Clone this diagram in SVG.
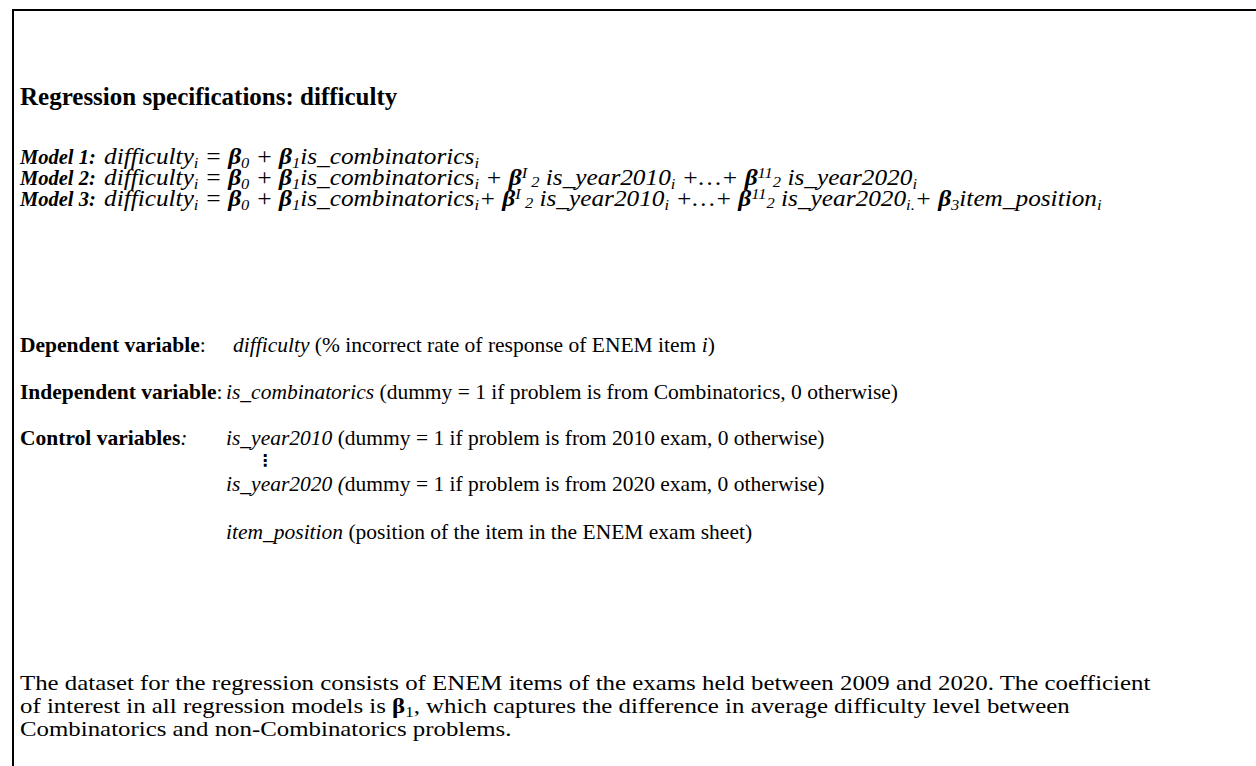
<svg xmlns="http://www.w3.org/2000/svg" width="1256" height="766" viewBox="0 0 1256 766">
<style>
text{font-family:"Liberation Serif","Times New Roman",serif;font-size:21.5px;fill:#000}
.t{font-size:25px;font-weight:bold}
.b{font-weight:bold}
.i{font-style:italic}
.bi{font-weight:bold;font-style:italic}
.lab{font-size:20.5px;font-weight:bold;font-style:italic}
.eq{font-size:23px;font-style:italic}
.s{font-size:15px}
.p{font-size:22px}
</style>
<rect width="1256" height="766" fill="#fff"/>
<g id="frame"><path d="M13 766V10H1256" fill="none" stroke="#000" stroke-width="2"/></g>
<g id="title"><text class="t" x="20" y="105">Regression specifications: difficulty</text></g>
<g id="models">
<text class="lab" x="20" y="164">Model 1:</text>
<text class="lab" x="20" y="185">Model 2:</text>
<text class="lab" x="20" y="206">Model 3:</text>
<g transform="translate(104,0) scale(1.1,1)">
<text class="eq" x="0" y="164">difficulty<tspan class="s" baseline-shift="-4">i</tspan> = <tspan class="b">β</tspan><tspan class="s" baseline-shift="-4">0</tspan> + <tspan class="b">β</tspan><tspan class="s" baseline-shift="-4">1</tspan>is_combinatorics<tspan class="s" baseline-shift="-4">i</tspan></text>
<text class="eq" x="0" y="185">difficulty<tspan class="s" baseline-shift="-4">i</tspan> = <tspan class="b">β</tspan><tspan class="s" baseline-shift="-4">0</tspan> + <tspan class="b">β</tspan><tspan class="s" baseline-shift="-4">1</tspan>is_combinatorics<tspan class="s" baseline-shift="-4">i</tspan> + <tspan class="b">β</tspan><tspan class="s" baseline-shift="7">I</tspan><tspan class="s" baseline-shift="-2"> 2</tspan> is_year2010<tspan class="s" baseline-shift="-4">i</tspan> +…+ <tspan class="b">β</tspan><tspan class="s" baseline-shift="7">11</tspan><tspan class="s" baseline-shift="-2">2</tspan> is_year2020<tspan class="s" baseline-shift="-4">i</tspan></text>
<text class="eq" x="0" y="206">difficulty<tspan class="s" baseline-shift="-4">i</tspan> = <tspan class="b">β</tspan><tspan class="s" baseline-shift="-4">0</tspan> + <tspan class="b">β</tspan><tspan class="s" baseline-shift="-4">1</tspan>is_combinatorics<tspan class="s" baseline-shift="-4">i</tspan>+ <tspan class="b">β</tspan><tspan class="s" baseline-shift="7">I</tspan><tspan class="s" baseline-shift="-2"> 2</tspan> is_year2010<tspan class="s" baseline-shift="-4">i</tspan> +…+ <tspan class="b">β</tspan><tspan class="s" baseline-shift="7">11</tspan><tspan class="s" baseline-shift="-2">2</tspan> is_year2020<tspan class="s" baseline-shift="-4">i.</tspan>+ <tspan class="b">β</tspan><tspan class="s" baseline-shift="-4">3</tspan>item_position<tspan class="s" baseline-shift="-4">i</tspan></text>
</g>
</g>
<g id="variables">
<text x="20" y="352"><tspan class="b">Dependent variable</tspan>:</text>
<text x="233" y="352"><tspan class="i">difficulty</tspan> (% incorrect rate of response of ENEM item <tspan class="i">i</tspan>)</text>
<text x="20" y="399"><tspan class="b">Independent variable</tspan>:</text>
<text x="226" y="399"><tspan class="i">is_combinatorics</tspan> (dummy = 1 if problem is from Combinatorics, 0 otherwise)</text>
<text x="20" y="445"><tspan class="b">Control variables</tspan><tspan class="i">:</tspan></text>
<text x="226" y="445"><tspan class="i">is_year2010</tspan> (dummy = 1 if problem is from 2010 exam, 0 otherwise)</text>
<text x="265" y="466" style="font-family:'DejaVu Sans',sans-serif;font-size:16px;font-weight:bold" text-anchor="middle">⋮</text>
<text x="226" y="491"><tspan class="i">is_year2020 (</tspan>dummy = 1 if problem is from 2020 exam, 0 otherwise)</text>
<text x="226" y="539"><tspan class="i">item_position</tspan> (position of the item in the ENEM exam sheet)</text>
</g>
<g id="note" transform="translate(20,0) scale(1.13,1)">
<text class="p" x="0" y="690">The dataset for the regression consists of ENEM items of the exams held between 2009 and 2020. The coefficient</text>
<text class="p" x="0" y="713">of interest in all regression models is <tspan class="b">β</tspan><tspan baseline-shift="-4" style="font-size:15px">1</tspan>, which captures the difference in average difficulty level between</text>
<text class="p" x="0" y="736">Combinatorics and non-Combinatorics problems.</text>
</g>
</svg>
